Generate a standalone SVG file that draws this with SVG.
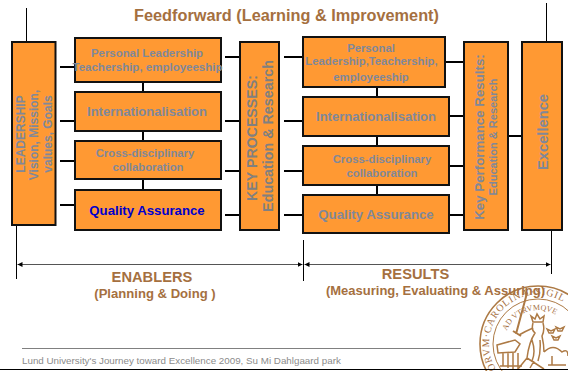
<svg xmlns="http://www.w3.org/2000/svg" width="568" height="371" viewBox="0 0 568 371">
<style>
text{font-family:"Liberation Sans",Arial,sans-serif;font-weight:bold;text-anchor:middle}
.b{fill:#ff9933;stroke:#111;stroke-width:2}
.g{fill:#80889a}
.k{fill:#808080}
.t{fill:#a5703f}
.c{stroke:#000;stroke-width:2;fill:none}
.h{stroke:#000;stroke-width:1;fill:none}
.s{stroke:#ad7a45;fill:none}
.sf{fill:#a5703f;font-family:"Liberation Serif",serif;font-weight:normal;text-anchor:start}
</style>
<defs>
<marker id="a" markerWidth="6" markerHeight="6" refX="5" refY="3" orient="auto-start-reverse"><path d="M0 .5L5 3L0 5.500z" fill="#000"/></marker>
<path id="so" d="M496 369A49 49 0 1 1 587 344"/>
<path id="si" d="M506.700 330.700A34 34 0 0 1 572 344"/>
</defs>
<rect width="568" height="371" fill="#fff"/>
<text class="t" x="286.500" y="21" font-size="16.300">Feedforward (Learning &amp; Improvement)</text>
<g id="connectors">
<path class="h" d="M26.500 8V42M546.500 3V42M16.500 225V279M303.500 240V281M551.500 230V274"/>
<path class="c" d="M60 67H75M60 121H75M60 161H75M60 205H75M225 57H240M225 121H240M225 171H240M225 215H240M284 57H303M284 121H303M284 171H303M284 215H303M445 62H464M449 116H469M449 166H469M449 215H469M508 136H522M143 82V92M143 131V141M143 179V190M377 87V97M377 136V146M377 185V195"/>
<path d="M17.500 264.500H302.500" stroke="#555" fill="none" marker-start="url(#a)" marker-end="url(#a)"/>
<path d="M304.500 264.500H550.500" stroke="#555" fill="none" marker-start="url(#a)" marker-end="url(#a)"/>
<path d="M22 348.500H461" stroke="#808080" fill="none"/>
</g>
<g id="leadership"><rect class="b" x="12" y="42" width="43.500" height="183"/>
<text class="g" font-size="12" transform="translate(24.500 134) rotate(-90)">LEADERSHIP</text>
<text class="g" font-size="12" transform="translate(38 135) rotate(-90)">Vision, Mission,</text>
<text class="g" font-size="12" transform="translate(52 134) rotate(-90)">values, Goals</text></g>
<g id="personal-left"><rect class="b" x="75" y="38" width="146" height="44"/>
<text class="g" x="147" y="57" font-size="11.400">Personal Leadership</text>
<text class="g" x="147.500" y="71" font-size="11.500">Teachership, employeeship</text></g>
<g id="intl-left"><rect class="b" x="75" y="92" width="146" height="39"/>
<text class="g" x="147" y="116" font-size="13">Internationalisation</text></g>
<g id="cross-left"><rect class="b" x="75" y="141" width="146" height="38"/>
<text class="g" x="145" y="157" font-size="11.300">Cross-disciplinary</text>
<text class="g" x="148" y="171" font-size="11.300">collaboration</text></g>
<g id="quality-left"><rect class="b" x="75" y="190" width="146" height="40"/>
<text x="147" y="215" font-size="13.200" fill="#0000cc">Quality Assurance</text></g>
<g id="key-processes"><rect class="b" x="240" y="42" width="39" height="188"/>
<text class="k" font-size="14.200" transform="translate(257 138) rotate(-90)">KEY PROCESSES:</text>
<text class="k" font-size="14.300" transform="translate(273 136) rotate(-90)">Education &amp; Research</text></g>
<g id="personal-right"><rect class="b" x="303" y="37" width="142" height="50"/>
<text class="g" x="371" y="52" font-size="11.300">Personal</text>
<text class="g" x="371.500" y="65" font-size="11.300">Leadership,Teachership,</text>
<text class="g" x="371" y="81" font-size="11.300">employeeship</text></g>
<g id="intl-right"><rect class="b" x="303" y="97" width="146" height="39"/>
<text class="g" x="376" y="121" font-size="13">Internationalisation</text></g>
<g id="cross-right"><rect class="b" x="303" y="146" width="146" height="39"/>
<text class="g" x="382" y="163" font-size="11.300">Cross-disciplinary</text>
<text class="g" x="382" y="177" font-size="11.300">collaboration</text></g>
<g id="quality-right"><rect class="b" x="303" y="195" width="146" height="38"/>
<text class="g" x="376" y="219" font-size="13.200">Quality Assurance</text></g>
<g id="key-results"><rect class="b" x="464" y="42" width="44" height="188"/>
<text class="g" font-size="13.300" transform="translate(484 137) rotate(-90)">Key Performance Results:</text>
<text class="g" font-size="11" transform="translate(497 137) rotate(-90)">Education &amp; Research</text></g>
<g id="excellence"><rect class="b" x="522" y="42" width="40" height="188"/>
<text class="g" font-size="14.700" transform="translate(548 132) rotate(-90)">Excellence</text></g>
<g id="seal">
<circle class="s" cx="538" cy="344" r="58" stroke-width="1.600"/>
<circle class="s" cx="538" cy="344" r="45" stroke-width="1"/>
<text class="sf" font-size="10" letter-spacing=".8"><textPath href="#so">ORVM·CAROLINÆ·SIGIL</textPath></text>
<text class="sf" font-size="8"><textPath href="#si">AD VTRVMQVE</textPath></text>
<path class="s" stroke-width="2" d="M516 334L527 293M513 331L521 336"/>
<path class="s" stroke-width="1.500" d="M497 345L515 340L520 344L515 352L498 353ZM503 353V366M508 353V368M513 353V369M518 353V369M500 366H522M519 335Q526 331 533 328"/>
<path class="s" stroke-width="1.500" d="M533 322L531 316L535 319L537 314L540 319L544 316L543 322ZM533 323Q531 330 535 333Q529 342 527 358M543 323Q545 330 542 336Q544 345 544 352M532 340Q536 352 532 361M540 340Q541 352 538 361M527 358L518 369M527 358L544 369M530 368L534 361M544 352Q553 343 562 352Q568 348 568 356M548 365H566M552 356V365"/>
<path class="s" stroke-width="1.400" d="M547 329L549 333H553L555 329L551 331ZM556 327L558 331H562L564 327L560 329ZM552 336L554 340H558L560 336L556 338Z"/>
</g>
<text class="t" x="152" y="282" font-size="14.700">ENABLERS</text>
<text class="t" x="155" y="298" font-size="13.100">(Planning &amp; Doing )</text>
<text class="t" x="415.500" y="279" font-size="14.700">RESULTS</text>
<text class="t" x="435.500" y="295" font-size="13">(Measuring, Evaluating &amp; Assuring)</text>
<text x="22" y="364" font-size="9.800" fill="#8c8c8c" style="font-weight:normal;text-anchor:start">Lund University's Journey toward Excellence 2009, Su Mi Dahlgaard park</text>
<path d="M0 369.500H568" stroke="#000" fill="none"/>
</svg>
